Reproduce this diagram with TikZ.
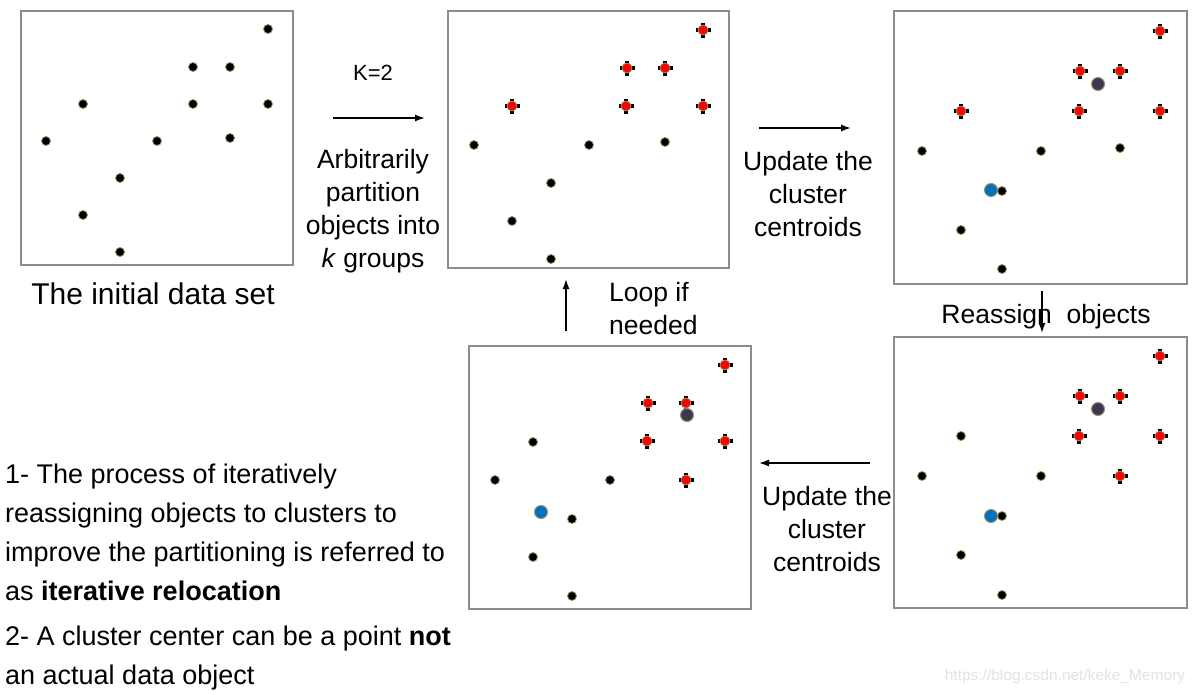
\documentclass[tikz,border=0pt]{standalone}
\usepackage{fontspec}
\setmainfont{Liberation Sans}
\usetikzlibrary{arrows.meta}

\definecolor{ringc}{RGB}{150,150,100}
\definecolor{framec}{RGB}{140,140,140}
\definecolor{centc}{RGB}{62,52,84}
\definecolor{bluec}{RGB}{0,112,192}
\definecolor{markc}{RGB}{226,226,226}

\begin{document}
\begin{tikzpicture}[x=1pt, y=-1pt,
  dot/.style={circle, fill=black, draw=ringc, line width=0.8pt, inner sep=0pt, minimum size=9pt},
  reddot/.style={dot, fill=red, minimum size=10pt},
  cent/.style={circle, draw=ringc, line width=1pt, inner sep=0pt, minimum size=13pt},
  panel/.style={draw=framec, line width=2pt, inner sep=0pt},
  flow/.style={-{Latex[length=10pt,width=7pt]}, line width=1.5pt},
  lbl/.style={font=\fontsize{26.5}{33}\selectfont, align=center},
  plus/.pic={\fill (-7.5,-1.7) rectangle (7.5,1.7); \fill (-1.7,-7.5) rectangle (1.7,7.5);}]
\useasboundingbox (0,0) rectangle (1197,694);

% Panels
\node[panel, minimum width=272pt, minimum height=254pt] (pA) at (157,138) {};
\node[panel, minimum width=281pt, minimum height=257pt] (pB) at (588.5,139.5) {};
\node[panel, minimum width=293pt, minimum height=273pt] (pC) at (1040.5,147.5) {};
\node[panel, minimum width=293pt, minimum height=271pt] (pD) at (1040.5,472.5) {};
\node[panel, minimum width=282pt, minimum height=263pt] (pE) at (610,477.5) {};

% Initial data set
\foreach \x/\y [count=\i] in {268/29,193/67,230/67,83/104,193/104,268/104,46/141,157/141,230/138,120/178,83/215,120/252}
  \node[dot] (a\i) at (\x,\y) {};

% Arbitrary partition
\foreach \x/\y [count=\i] in {474/145,589/145,665/142,551/183,512/221,551/259}
  \node[dot] (b\i) at (\x,\y) {};
\foreach \x/\y [count=\i] in {703/30,627/68,665/68,512/106,626/106,703/106}
  {\pic at (\x,\y) {plus}; \node[reddot] (br\i) at (\x,\y) {};}

% Updated centroids
\node[cent, fill=bluec] (cb) at (991,190) {};
\foreach \x/\y [count=\i] in {922/151,1041/151,1120/148,1002/191,961/230,1002/269}
  \node[dot] (c\i) at (\x,\y) {};
\foreach \x/\y [count=\i] in {1160/31,1080/71,1120/71,961/111,1079/111,1160/111}
  {\pic at (\x,\y) {plus}; \node[reddot] (cr\i) at (\x,\y) {};}
\node[cent, fill=centc] (cc) at (1098,84) {};

% Reassigned objects
\node[cent, fill=bluec] (db) at (991,516) {};
\foreach \x/\y [count=\i] in {961/436,922/476,1041/476,1002/516,961/555,1002/595}
  \node[dot] (d\i) at (\x,\y) {};
\foreach \x/\y [count=\i] in {1160/356,1080/396,1120/396,1079/436,1160/436,1120/476}
  {\pic at (\x,\y) {plus}; \node[reddot] (dr\i) at (\x,\y) {};}
\node[cent, fill=centc] (dc) at (1098,409) {};

% Updated again
\node[cent, fill=bluec] (eb) at (541,512) {};
\foreach \x/\y [count=\i] in {533/442,495/480,610/480,572/519,533/557,572/596}
  \node[dot] (e\i) at (\x,\y) {};
\foreach \x/\y [count=\i] in {725/365,648/403,686/403,647/441,725/441,686/480}
  {\pic at (\x,\y) {plus}; \node[reddot] (er\i) at (\x,\y) {};}
\node[cent, fill=centc] (ec) at (687,415) {};

% Labels
\node[font=\fontsize{30}{35}\selectfont] (init) at (153,293.5) {The initial data set};
\node[font=\fontsize{22}{26}\selectfont] (kk) at (373,72.5) {K=2};
\node[lbl] (part) at (373,211) {Arbitrarily\\partition\\objects into\\\textit{k} groups};
\node[lbl] (upd1) at (808,194.5) {Update the\\cluster\\centroids};
\node[lbl] (upd2) at (827,529) {Update the\\cluster\\centroids};
\node[lbl, align=left, anchor=west, inner sep=0pt] (loop) at (609,308.5) {Loop if\\needed};
\node[lbl] (reas) at (1046,316.5) {Reassign\ \ objects};

% Arrows
\coordinate (k0) at (333,118); \coordinate (k1) at (425,118);
\coordinate (u0) at (759,128); \coordinate (u1) at (851,128);
\coordinate (r0) at (1042,291); \coordinate (r1) at (1042,333);
\coordinate (v0) at (870,463); \coordinate (v1) at (759,463);
\coordinate (l0) at (566,331); \coordinate (l1) at (566,279);
\draw[flow] (k0) -- (k1);
\draw[flow] (u0) -- (u1);
\draw[flow] (r0) -- (r1);
\draw[flow] (v0) -- (v1);
\draw[flow] (l0) -- (l1);

% Notes
\node[font=\fontsize{27}{39}\selectfont, align=left, anchor=north west, inner sep=0pt] (note) at (5,464)
  {1- The process of iteratively\\reassigning objects to clusters to\\improve the partitioning is referred to\\as \textbf{iterative relocation}\\[6pt]2- A cluster center can be a point \textbf{not}\\an actual data object};
\node[text=markc, font=\fontsize{15.5}{18}\selectfont] (wm) at (1065,676) {https://blog.csdn.net/keke\_Memory};
\end{tikzpicture}
\end{document}
